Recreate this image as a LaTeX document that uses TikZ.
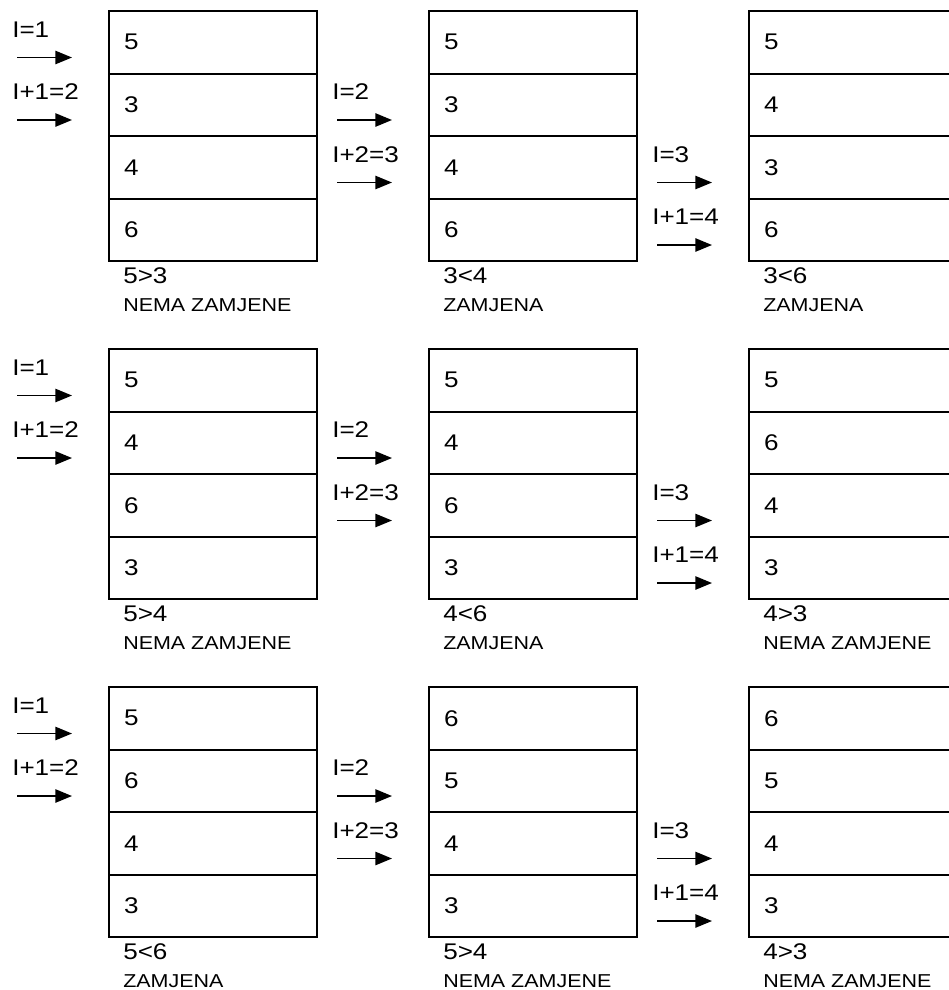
\documentclass[tikz,border=0pt]{standalone}
\usepackage{fontspec}
\setmainfont[FakeStretch=1.15]{Liberation Sans}
\usetikzlibrary{arrows.meta}
\newcommand\drawstack[9]{%
  \node[cell] (#1r1) at (#2,#3) {#4};
  \node[cell] (#1r2) at (#2,#3+62.5) {#5};
  \node[cell] (#1r3) at (#2,#3+125) {#6};
  \node[cell] (#1r4) at (#2,#3+187.5) {#7};
  \node[cmptext] (#1c) at (#2+15,#3+273) {#8};
  \node[restext] (#1s) at (#2+15,#3+301) {#9};
}
\newcommand\drawptr[4]{%
  \node[ptrlabel] (#1l) at (#2-96,#3+27) {#4};
  \coordinate (#1a) at (#2-91,#3+47.5);
  \coordinate (#1b) at (#2-36,#3+47.5);
  \draw[ptrarrow] (#1a) -- (#1b);
}
\begin{document}
\begin{tikzpicture}[x=0.75pt,y=-0.75pt,
  cell/.style={draw, line width=1.5pt, anchor=north west, rectangle,
    minimum width=156pt, minimum height=46.875pt, text width=133.5pt,
    inner xsep=11.25pt, inner ysep=0pt, align=left,
    font=\fontsize{17}{20}\selectfont},
  cmptext/.style={anchor=base west, inner sep=0pt, font=\fontsize{17}{20}\selectfont},
  restext/.style={anchor=base west, inner sep=0pt, font=\fontsize{14}{16}\selectfont},
  ptrlabel/.style={anchor=base west, inner sep=0pt, font=\fontsize{17}{20}\selectfont},
  ptrarrow/.style={line width=1.2pt, -{Triangle[length=12.5pt,width=10pt]}}]
\useasboundingbox (0,0) rectangle (949,990);
\clip (0,0) rectangle (949,990);
% block 1
\drawstack{aa}{108}{10}{5}{3}{4}{6}{5>3}{NEMA ZAMJENE}
\drawstack{ab}{428}{10}{5}{3}{4}{6}{3<4}{ZAMJENA}
\drawstack{ac}{748}{10}{5}{4}{3}{6}{3<6}{ZAMJENA}
\drawptr{aap}{108}{10}{I=1}
\drawptr{aaq}{108}{72.5}{I+1=2}
\drawptr{abp}{428}{72.5}{I=2}
\drawptr{abq}{428}{135}{I+2=3}
\drawptr{acp}{748}{135}{I=3}
\drawptr{acq}{748}{197.5}{I+1=4}
% block 2
\drawstack{ba}{108}{348}{5}{4}{6}{3}{5>4}{NEMA ZAMJENE}
\drawstack{bb}{428}{348}{5}{4}{6}{3}{4<6}{ZAMJENA}
\drawstack{bc}{748}{348}{5}{6}{4}{3}{4>3}{NEMA ZAMJENE}
\drawptr{bap}{108}{348}{I=1}
\drawptr{baq}{108}{410.5}{I+1=2}
\drawptr{bbp}{428}{410.5}{I=2}
\drawptr{bbq}{428}{473}{I+2=3}
\drawptr{bcp}{748}{473}{I=3}
\drawptr{bcq}{748}{535.5}{I+1=4}
% block 3
\drawstack{ca}{108}{686}{5}{6}{4}{3}{5<6}{ZAMJENA}
\drawstack{cb}{428}{686}{6}{5}{4}{3}{5>4}{NEMA ZAMJENE}
\drawstack{cc}{748}{686}{6}{5}{4}{3}{4>3}{NEMA ZAMJENE}
\drawptr{cap}{108}{686}{I=1}
\drawptr{caq}{108}{748.5}{I+1=2}
\drawptr{cbp}{428}{748.5}{I=2}
\drawptr{cbq}{428}{811}{I+2=3}
\drawptr{ccp}{748}{811}{I=3}
\drawptr{ccq}{748}{873.5}{I+1=4}
\end{tikzpicture}
\end{document}
